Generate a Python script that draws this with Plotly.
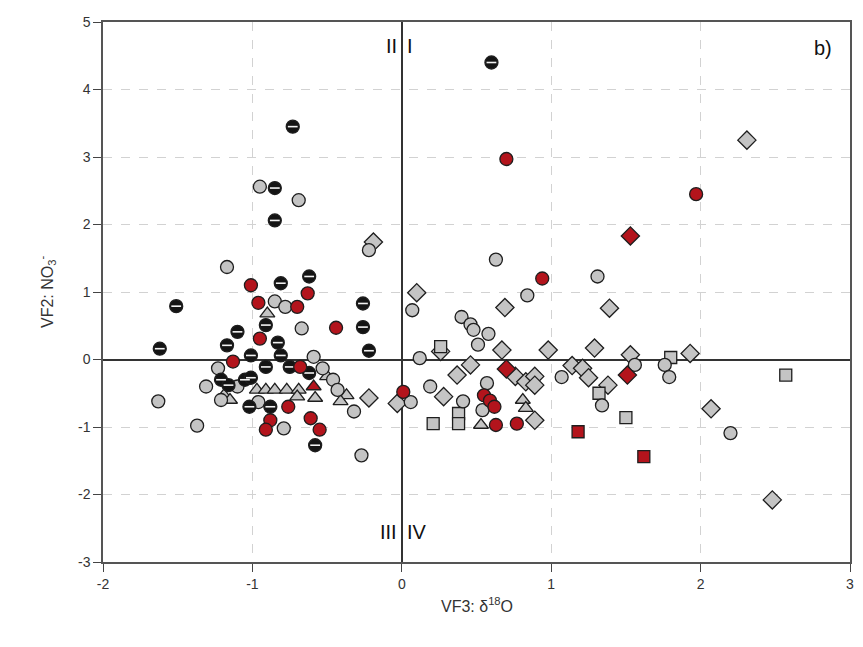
import plotly.graph_objects as go

# ---- data ----
black_x = [0.60, -0.73, -0.85, -0.85, -0.81, -0.62, -1.51, -0.91, -1.10, -0.83, -1.62, -1.17,
           -0.26, -0.26, -0.22, -1.01, -0.81, -0.91, -0.75, -0.62, -1.21, -1.16, -1.05, -1.01,
           -0.88, -1.02, -0.58]
black_y = [4.40, 3.45, 2.54, 2.06, 1.13, 1.23, 0.79, 0.51, 0.41, 0.25, 0.16, 0.21,
           0.83, 0.48, 0.13, 0.06, 0.06, -0.11, -0.11, -0.20, -0.30, -0.38, -0.30, -0.27,
           -0.70, -0.70, -1.27]

gray_circle_x = [-0.95, -0.69, -1.17, -0.22, -0.85, -0.78, -0.67, -0.59, -0.53, -1.23, -1.31,
                 -1.10, -1.21, -1.63, -1.37, -0.96, -0.46, -0.43, -0.32, -0.79, -0.27, 0.63,
                 1.31, 0.07, 0.84, 0.40, 0.46, 0.48, 0.58, 0.51, 0.12, 1.07, 0.06, 0.19, 0.41,
                 0.54, 0.57, 1.56, 1.76, 1.79, 1.34, 2.20]
gray_circle_y = [2.56, 2.36, 1.37, 1.62, 0.86, 0.78, 0.46, 0.04, -0.13, -0.13, -0.40,
                 -0.40, -0.60, -0.62, -0.98, -0.63, -0.30, -0.45, -0.77, -1.02, -1.42, 1.48,
                 1.23, 0.73, 0.95, 0.63, 0.52, 0.44, 0.38, 0.22, 0.02, -0.26, -0.63, -0.40, -0.62,
                 -0.75, -0.35, -0.08, -0.08, -0.26, -0.68, -1.09]

gray_diamond_x = [2.31, -0.19, 0.10, 0.69, 1.39, 0.26, 0.67, 0.98, 1.29, 1.53, 1.93, 0.46, 0.37,
                  0.76, 0.83, 0.89, 0.89, 1.14, 1.21, 1.25, 1.38, 0.28, -0.03, -0.22, 0.89,
                  2.07, 2.48]
gray_diamond_y = [3.25, 1.74, 0.99, 0.77, 0.76, 0.12, 0.14, 0.14, 0.17, 0.07, 0.09, -0.08, -0.23,
                  -0.25, -0.33, -0.25, -0.38, -0.09, -0.13, -0.27, -0.38, -0.55, -0.65, -0.57, -0.90,
                  -0.73, -2.08]

gray_square_x = [0.26, 1.80, 1.32, 1.50, 2.57, 0.21, 0.38, 0.38]
gray_square_y = [0.19, 0.03, -0.50, -0.86, -0.23, -0.95, -0.80, -0.95]

gray_triangle_x = [-0.90, -1.19, -1.15, -0.97, -0.91, -0.85, -0.77, -0.69, -0.70, -0.58, -0.50,
                   -0.37, -0.41, 0.53, 0.81, 0.83]
gray_triangle_y = [0.68, -0.53, -0.60, -0.45, -0.45, -0.45, -0.45, -0.45, -0.55, -0.57, -0.25,
                   -0.53, -0.62, -0.97, -0.60, -0.72]

red_circle_x = [0.70, 1.97, 0.94, -1.01, -0.96, -0.63, -0.70, -0.44, -0.95, -1.13, -0.68,
                -0.76, -0.88, -0.91, -0.61, -0.55, 0.63, 0.77, 0.01, 0.55, 0.59, 0.62]
red_circle_y = [2.97, 2.45, 1.20, 1.10, 0.84, 0.98, 0.78, 0.47, 0.31, -0.03, -0.11,
                -0.70, -0.90, -1.04, -0.87, -1.04, -0.97, -0.95, -0.48, -0.53, -0.61, -0.70]

red_diamond_x = [1.53, 1.51, 0.70]
red_diamond_y = [1.83, -0.23, -0.14]

red_square_x = [1.18, 1.62]
red_square_y = [-1.07, -1.44]

red_triangle_x = [-0.59]
red_triangle_y = [-0.40]

x_ticks = [-2, -1, 0, 1, 2, 3]
x_tick_labels = ["-2", "-1", "0", "1", "2", "3"]
y_ticks = [-3, -2, -1, 0, 1, 2, 3, 4, 5]
y_tick_labels = ["-3", "-2", "-1", "0", "1", "2", "3", "4", "5"]

# ---- styles ----
EDGE = dict(color="#1e1e1e", width=1.3)
GRAY = "#c4c4c4"
RED = "#b3141c"
SIZE = 13

fig = go.Figure()

def add(xs, ys, symbol, fill, size=SIZE):
    fig.add_trace(go.Scatter(x=xs, y=ys, mode="markers", showlegend=False, hoverinfo="skip",
                             marker=dict(symbol=symbol, size=size, color=fill, line=EDGE)))

add(gray_diamond_x, gray_diamond_y, "diamond", GRAY, 14)
add(gray_square_x, gray_square_y, "square", GRAY, 12)
add(gray_triangle_x, gray_triangle_y, "triangle-up", GRAY, 13)
add(gray_circle_x, gray_circle_y, "circle", GRAY)
add(black_x, black_y, "circle", "#141414")
# white highlight band of the half-filled black symbols
fig.add_trace(go.Scatter(x=black_x, y=black_y, mode="markers", showlegend=False, hoverinfo="skip",
                         marker=dict(symbol="line-ew", size=7, line=dict(color="#f2f2f2", width=1.6))))
add(red_circle_x, red_circle_y, "circle", RED)
add(red_diamond_x, red_diamond_y, "diamond", RED, 14)
add(red_square_x, red_square_y, "square", RED, 12)
add(red_triangle_x, red_triangle_y, "triangle-up", RED, 13)

FONT = "Liberation Sans, Arial, sans-serif"

axis_common = dict(ticks="outside", ticklen=8, tickwidth=1.2, tickcolor="#444",
                   showline=True, linecolor="#555", linewidth=1.5, mirror=True,
                   showgrid=True, gridcolor="#d2d2d2", griddash="dash", gridwidth=1,
                   zeroline=True, zerolinecolor="#333", zerolinewidth=1.5,
                   automargin=False, tickfont=dict(size=14, color="#333"))

# the page body has an 8px default margin, so the figure is sized/offset to compensate
fig.update_layout(
    width=847, height=631,
    margin=dict(l=95, r=5, t=14, b=77),
    paper_bgcolor="white", plot_bgcolor="white",
    font=dict(family=FONT, color="#333333", size=13),
    xaxis=dict(range=[-2, 3], tickvals=x_ticks, ticktext=x_tick_labels, **axis_common),
    yaxis=dict(range=[-3, 5], tickvals=y_ticks, ticktext=y_tick_labels, **axis_common),
)

title_font = dict(family=FONT, size=16, color="#333")
fig.add_annotation(xref="paper", yref="paper", x=0.5, y=0, yshift=-43, yanchor="middle",
                   text="VF3: δ<sup>18</sup>O", showarrow=False, font=title_font)
fig.add_annotation(xref="paper", yref="paper", x=0, y=0.5, xshift=-56, xanchor="center",
                   text="VF2: NO<sub>3</sub><sup>-</sup>", textangle=-90, showarrow=False,
                   font=title_font)

ann_font = dict(family=FONT, size=20, color="#111")
fig.add_annotation(x=0, y=4.65, text="II", showarrow=False, xanchor="right", xshift=-3, font=ann_font)
fig.add_annotation(x=0, y=4.65, text="I", showarrow=False, xanchor="left", xshift=3, font=ann_font)
fig.add_annotation(x=0, y=-2.55, text="III", showarrow=False, xanchor="right", xshift=-3, font=ann_font)
fig.add_annotation(x=0, y=-2.55, text="IV", showarrow=False, xanchor="left", xshift=3, font=ann_font)
fig.add_annotation(x=2.89, y=4.62, text="b)", showarrow=False, xanchor="right", font=ann_font)

fig.write_html("out.html")
